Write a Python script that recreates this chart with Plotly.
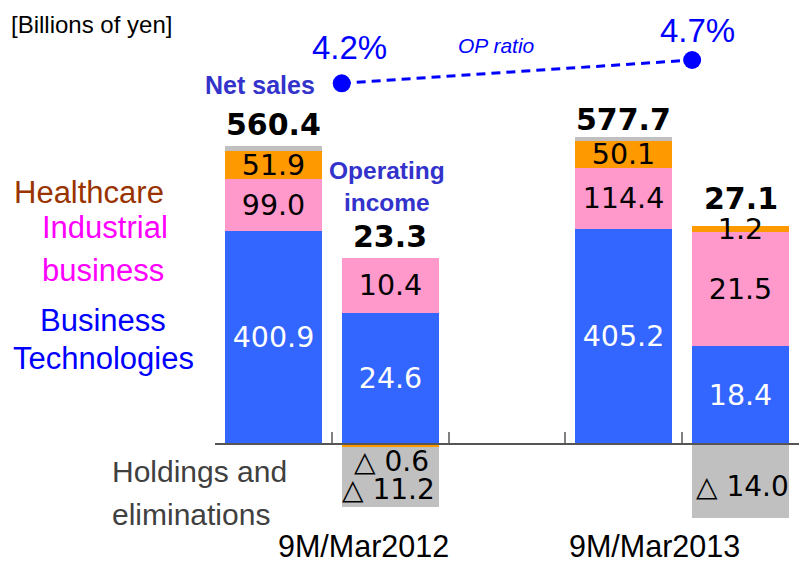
import plotly.graph_objects as go

# data (billions of yen)
periods = ["9M/Mar2012", "9M/Mar2013"]

ns_bt = [400.9, 405.2]
ns_ib = [99.0, 114.4]
ns_hc = [51.9, 50.1]
ns_hold = [8.6, 8.0]
ns_total = [560.4, 577.7]

op_bt = [24.6, 18.4]
op_ib = [10.4, 21.5]
op_hc = [-0.6, 1.2]
op_hold = [-11.2, -14.0]
op_total = [23.3, 27.1]

op_ratio = [4.2, 4.7]

# colours
C_BT = "#3366FF"
C_IB = "#FF99CC"
C_HC = "#FF9900"
C_HOLD = "#C0C0C0"

# page geometry (pixels)
W, H = 802, 563
L, R, T, B = 215, 799, 10, 530
ZERO = 444
NS_PX = 0.531        # px per bn yen for net sales
OP_PX = NS_PX * 10   # operating income drawn 10x
RATIO_PX = 46.6      # px per % point

def px(x):
    return (x - L) / (R - L)

def py(y):
    return (B - y) / (B - T)

ns_x = [3 * i for i in range(len(periods))]
op_x = [3 * i + 1 for i in range(len(periods))]
BAR_W = 0.83

NUM_FONT = dict(family="DejaVu Sans", size=28.5)

def bar(x, y, color, yaxis, text=None, tcolor="black"):
    return go.Bar(x=x, y=y, width=BAR_W, marker=dict(color=color, line=dict(width=0)),
                  yaxis=yaxis, text=text, textposition="inside" if text else "none",
                  insidetextanchor="middle", textangle=0, constraintext="none",
                  textfont=dict(NUM_FONT, color=tcolor), hoverinfo="skip",
                  showlegend=False)

fmt = lambda v: [f"{a:.1f}" for a in v]

traces = [
    bar(ns_x, ns_bt, C_BT, "y", fmt(ns_bt), "white"),
    bar(ns_x, ns_ib, C_IB, "y", fmt(ns_ib)),
    bar(ns_x, ns_hc, C_HC, "y", fmt(ns_hc)),
    bar(ns_x, ns_hold, C_HOLD, "y"),
    bar(op_x, op_bt, C_BT, "y2", fmt(op_bt), "white"),
    bar(op_x, op_ib, C_IB, "y2", fmt(op_ib)),
    bar(op_x, op_hc, C_HC, "y2", [f"{v:.1f}" if v > 0 else "" for v in op_hc]),
    bar(op_x, op_hold, C_HOLD, "y2"),
]

ratio_x = [x - BAR_W / 2 for x in op_x]
traces.append(go.Scatter(x=ratio_x, y=op_ratio, yaxis="y3", mode="lines+markers",
                         line=dict(color="#0000FF", width=3, dash="9px,6px"),
                         marker=dict(size=18, color="#0000FF"),
                         hoverinfo="skip", showlegend=False))

fig = go.Figure(data=traces)

ann = []
# totals
tot_shift = [[22, 18], [22, 27]]
for i in range(len(periods)):
    top_ns = ns_bt[i] + ns_ib[i] + ns_hc[i] + ns_hold[i]
    top_op = sum(v for v in [op_bt[i], op_ib[i], op_hc[i], op_hold[i]] if v > 0)
    ann.append(dict(x=ns_x[i], y=top_ns, xref="x", yref="y", text=f"{ns_total[i]:.1f}",
                    yshift=tot_shift[0][i]))
    ann.append(dict(x=op_x[i], y=top_op, xref="x", yref="y2", text=f"{op_total[i]:.1f}",
                    yshift=tot_shift[1][i]))
for a in ann:
    a.update(showarrow=False, yanchor="middle", borderpad=0,
             font=dict(family="DejaVu Sans", size=30, color="black", weight="bold"))

# negative labels
neg_pos = [(391, 461, op_hc[0]), (388, 489, op_hold[0]), (742, 486, op_hold[1])]
for x0, y0, v in neg_pos:
    ann.append(dict(x=px(x0), y=py(y0), xref="paper", yref="paper", showarrow=False,
                    xanchor="center", yanchor="middle", borderpad=0,
                    text=f"\u25B3 {abs(v):.1f}", font=dict(NUM_FONT, size=28, color="black")))

# ratio labels
for i, (dx, dy) in enumerate([(8, 36), (5, 30)]):
    ann.append(dict(x=ratio_x[i], y=op_ratio[i], xref="x", yref="y3", showarrow=False,
                    text=f"{op_ratio[i]:.1f}%", xshift=dx, yshift=dy, yanchor="middle",
                    font=dict(family="Liberation Sans", size=33, color="#0000FF")))

SANS = "Liberation Sans"
def label(text, x0, y0, size, color, xanchor="center", **kw):
    ann.append(dict(x=px(x0), y=py(y0), xref="paper", yref="paper", showarrow=False,
                    text=text, xanchor=xanchor, yanchor="middle", borderpad=0,
                    font=dict(family=SANS, size=size, color=color, **kw)))

label("OP ratio", 496, 46, 21, "#0000FF", style="italic")
label("Net sales", 316, 85, 25, "#3333CC", xanchor="right", weight="bold")
label("Operating<br>income", 387, 186, 24.5, "#3333CC", weight="bold")
label("[Billions of yen]", 10, 24, 24, "#000000", xanchor="left")
label("Healthcare", 13, 193, 31, "#993300", xanchor="left")
label("Industrial", 41, 228, 31, "#FF00FF", xanchor="left")
label("business", 41, 270, 31, "#FF00FF", xanchor="left")
label("Business", 103, 320, 31, "#0000FF")
label("Technologies", 103, 358, 31, "#0000FF")
label("Holdings and", 111, 471, 30, "#404040", xanchor="left")
label("eliminations", 111, 514, 30, "#404040", xanchor="left")
for i, cx in enumerate([363, 654]):
    label(periods[i], cx, 546, 30.5, "#000000")

ns_range = [-(B - ZERO) / NS_PX, (ZERO - T) / NS_PX]
op_range = [-(B - ZERO) / OP_PX, (ZERO - T) / OP_PX]
r_range = [4.2 - (B - 83.3) / RATIO_PX, 4.2 + (83.3 - T) / RATIO_PX]

fig.update_layout(
    width=W, height=H,
    margin=dict(l=L, r=W - R, t=T, b=H - B, pad=0),
    paper_bgcolor="white", plot_bgcolor="white",
    barmode="relative", bargap=0,
    annotations=ann,
    xaxis=dict(range=[-0.5, 4.5], tickvals=[i - 0.5 for i in range(6)],
               ticks="inside", ticklen=11, tickwidth=1.5, tickcolor="#808080",
               showticklabels=False, showgrid=False, zeroline=False,
               showline=True, linecolor="#555555", linewidth=1.5,
               anchor="free", position=py(ZERO)),
    yaxis=dict(range=ns_range, visible=False, showgrid=False),
    yaxis2=dict(range=op_range, overlaying="y", visible=False, showgrid=False),
    yaxis3=dict(range=r_range, overlaying="y", visible=False, showgrid=False),
)

fig.write_html("out.html", config={"displayModeBar": False},
               post_script="document.body.style.margin='0';")
